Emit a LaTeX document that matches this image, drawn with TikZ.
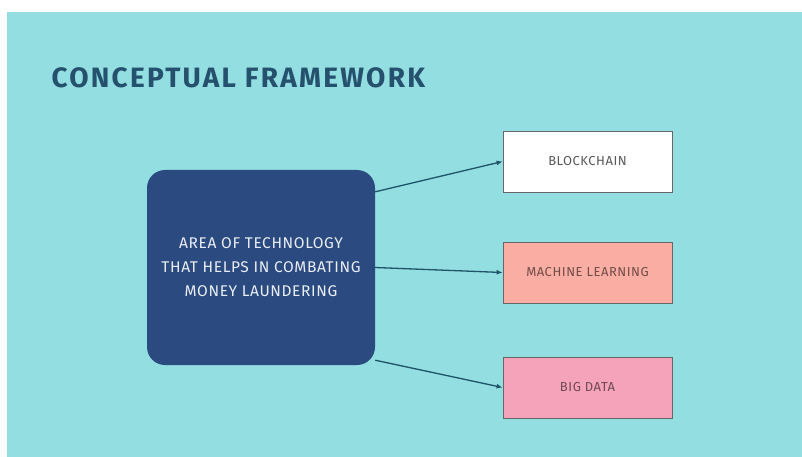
\documentclass[tikz,border=0pt]{standalone}
\usepackage{fontspec}
\setmainfont{Fira Sans}
\usetikzlibrary{arrows.meta}
\usetikzlibrary{positioning}
\definecolor{bgcyan}{HTML}{93DEE0}
\definecolor{boxblue}{HTML}{2B4A80}
\definecolor{titleblue}{HTML}{25506E}
\definecolor{linkteal}{HTML}{1F5468}
\definecolor{salmon}{HTML}{F9ADA3}
\definecolor{rosepink}{HTML}{F5A3BA}
\tikzset{areabox/.style = {fill=boxblue, rounded corners=18pt, minimum width=228pt,
                           minimum height=195pt, align=center, text=white!90!boxblue,
                           font=\fontsize{15.5}{24}\selectfont\addfontfeature{LetterSpace=4}},
         techbox/.style = {draw=gray!80!black, line width=0.8pt, minimum width=169pt,
                           minimum height=61pt, text=black!65,
                           font=\fontsize{13}{15}\selectfont\addfontfeature{LetterSpace=4}},
         link/.style = {draw=linkteal, line width=1.3pt, -{Latex[length=6pt,width=5pt]}}}

\begin{document}
\begin{tikzpicture}[x=1pt, y=-1pt]
      \useasboundingbox (0, 0) rectangle (802, 457);
      \fill [bgcyan] (7, 12) rectangle (802, 457);
      \node [anchor = west, text=titleblue,
             font=\fontsize{28}{30}\bfseries\addfontfeature{LetterSpace=8}] (title) at (48, 78) {CONCEPTUAL FRAMEWORK};
      \node [areabox] (area) at (261, 267.5) {AREA OF TECHNOLOGY\\THAT HELPS IN COMBATING\\MONEY LAUNDERING};
      \node [techbox, fill=white] (chain) at (587.5, 161.5) {BLOCKCHAIN};
      \node [techbox, fill=salmon, text=black!55!salmon] (ml) at (587.5, 272.5) {MACHINE LEARNING};
      \node [techbox, fill=rosepink, text=black!55!rosepink] (bigdata) at (587.5, 387.5) {BIG DATA};
      \draw [link] ([yshift=-22pt]area.north east) -- (chain.west);
      \draw [link] (area.east) -- (ml.west);
      \draw [link] ([yshift=5pt]area.south east) -- (bigdata.west);
    \end{tikzpicture}
\end{document}
